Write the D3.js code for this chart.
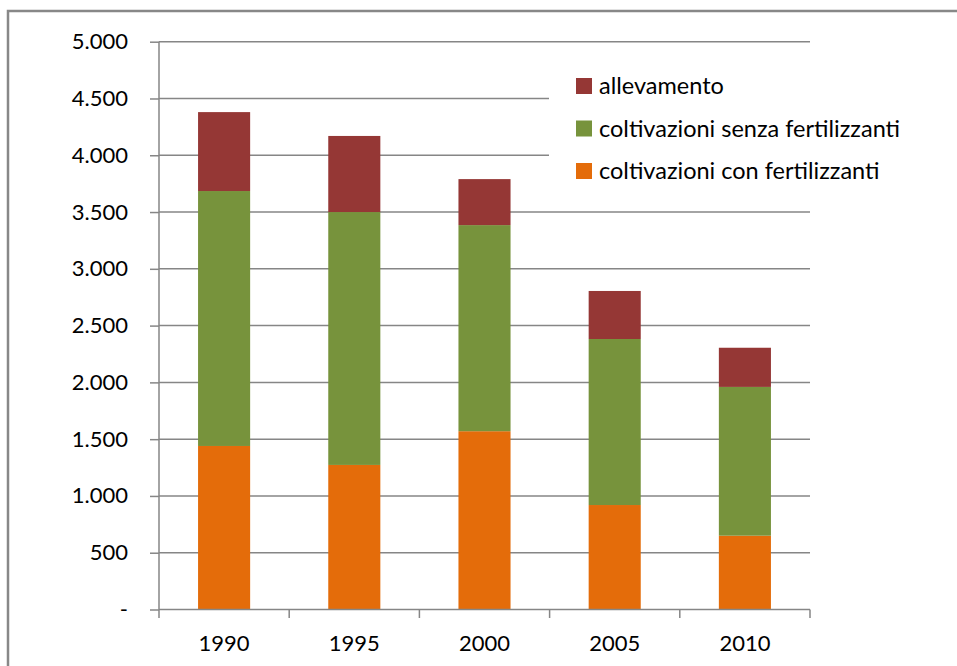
<!DOCTYPE html>
<html><head><meta charset="utf-8">
<script src="https://cdn.jsdelivr.net/npm/d3@7"></script>
<style>html,body{margin:0;padding:0;background:#fff;}svg{display:block;}</style>
</head><body>
<script>
const years = ["1990","1995","2000","2005","2010"];
const conFertilizzanti = [1440, 1273, 1570, 920, 650];
const senzaFertilizzanti = [2245, 2227, 1815, 1462, 1310];
const allevamento = [695, 670, 405, 423, 345];
const seriesNames = ["coltivazioni con fertilizzanti","coltivazioni senza fertilizzanti","allevamento"];
const seriesColors = ["#E46C0A","#77933C","#953735"];
const yTicks = [0,500,1000,1500,2000,2500,3000,3500,4000,4500,5000];

const W=957,H=666;
const svg=d3.select("body").append("svg").attr("width",W).attr("height",H);
const font="Lato, 'Open Sans', sans-serif";

// outer frame
svg.append("rect").attr("x",8).attr("y",11).attr("width",W+20).attr("height",H+20)
  .attr("fill","#fff").attr("stroke","#888").attr("stroke-width",2.5);

const x=d3.scaleBand().domain(years).range([159,810]).paddingInner(0.6).paddingOuter(0.3);
const y=d3.scaleLinear().domain([0,5000]).range([609.5,41.7]);

const table=years.map((yr,i)=>({year:yr,
  [seriesNames[0]]:conFertilizzanti[i],[seriesNames[1]]:senzaFertilizzanti[i],[seriesNames[2]]:allevamento[i]}));
const stack=d3.stack().keys(seriesNames)(table);

// gridlines
svg.append("g").selectAll("line").data(yTicks.filter(d=>d>0)).join("line")
  .attr("x1",159).attr("x2",810).attr("y1",d=>y(d)).attr("y2",d=>y(d))
  .attr("stroke","#868686").attr("stroke-width",1.5);

// bars
svg.append("g").selectAll("g").data(stack).join("g").attr("fill",(d,i)=>seriesColors[i])
  .selectAll("rect").data(d=>d).join("rect")
  .attr("x",d=>x(d.data.year)).attr("width",x.bandwidth())
  .attr("y",d=>y(d[1])).attr("height",d=>y(d[0])-y(d[1]));

// y axis
const yAxis=svg.append("g").attr("transform","translate(159,0)")
  .call(d3.axisLeft(y).tickValues(yTicks).tickSize(9).tickPadding(22)
    .tickFormat(d=>d===0?"-":d3.format(",")(d).replace(/,/g,".")));
yAxis.select(".domain").attr("stroke","#868686").attr("stroke-width",1.5).attr("d","M0,41.7V609.5");
yAxis.selectAll(".tick line").attr("stroke","#868686").attr("stroke-width",1.5);
yAxis.selectAll(".tick text").attr("font-family",font).attr("font-size",22).attr("fill","#000");

// x axis
const xAxis=svg.append("g").attr("transform","translate(0,609.5)")
  .call(d3.axisBottom(x).tickSize(0).tickPadding(26));
xAxis.select(".domain").attr("stroke","#868686").attr("stroke-width",1.5).attr("d","M159,0H810");
xAxis.selectAll(".tick text").attr("font-family",font).attr("font-size",22).attr("fill","#000");
const step=(810-159)/years.length;
svg.append("g").selectAll("line").data(d3.range(years.length+1)).join("line")
  .attr("x1",d=>159+d*step).attr("x2",d=>159+d*step).attr("y1",609.5).attr("y2",618)
  .attr("stroke","#868686").attr("stroke-width",1.5);

// legend
const leg=svg.append("g");
leg.append("rect").attr("x",549).attr("y",62).attr("width",263).attr("height",132).attr("fill","#fff");
const legItems=[2,1,0];
legItems.forEach((si,k)=>{
  const cy=86+k*42.5;
  leg.append("rect").attr("x",576).attr("y",cy-8).attr("width",16).attr("height",16).attr("fill",seriesColors[si]);
  leg.append("text").attr("x",599).attr("y",cy).attr("dy","0.35em")
    .attr("font-family",font).attr("font-size",23.5).attr("fill","#000").text(seriesNames[si]);
});
</script>
</body></html>
